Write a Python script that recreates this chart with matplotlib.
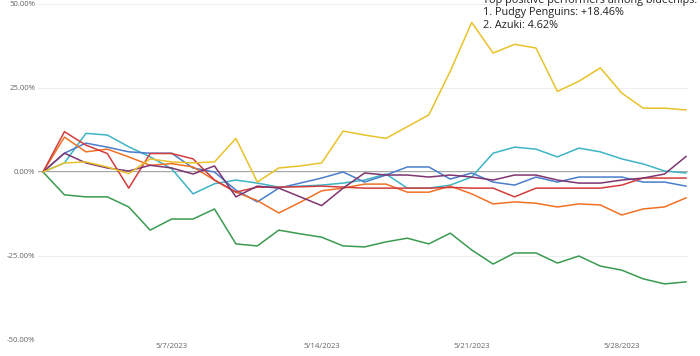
import matplotlib
matplotlib.use("Agg")
import matplotlib.pyplot as plt
import numpy as np
import pandas as pd

# daily % change vs 5/1/2023
dates = pd.date_range("2023-05-01", "2023-05-31", freq="D")

pudgy = [0, 2.7, 3, 1.5, -0.5, 3.9, 3, 2.7, 3, 10, -3, 1.2, 1.8, 2.7, 12.2, 11,
         10, 13.5, 17, 30, 44.5, 35.4, 38, 36.9, 24, 27, 31, 23.5, 19, 19, 18.46]
azuki = [0, 5.6, 2.7, 1.2, 0.3, 2, 1.2, -0.6, 1.8, -7.4, -4.2, -4.8, -7.4, -10, -4.8, -0.3,
         -0.9, -0.9, -1.5, -0.9, -1.5, -2.4, -0.9, -0.9, -2.4, -3.3, -3.3, -2.4, -1.8, -0.6, 4.62]
teal = [0, 2.7, 11.5, 11, 7.5, 4.5, 1, -6.5, -3.5, -2.4, -3.3, -4.5, -4.2, -3.9, -3.3, -2.4,
        -0.6, -4.8, -4.8, -3.9, -1.5, 5.6, 7.4, 6.8, 4.5, 7.1, 6, 3.9, 2.4, 0.3, -0.3]
blue = [0, 5.6, 8.6, 7.4, 6, 5.6, 5.6, 1.2, 0, -5.4, -8.9, -4.8, -3.3, -1.8, 0, -3,
        -0.9, 1.5, 1.5, -2.1, -0.3, -3, -3.9, -1.5, -3, -1.5, -1.5, -1.5, -3, -3, -4.2]
red = [0, 12, 8, 5.5, -4.8, 5.5, 5.5, 3.9, -2.4, -6, -4.5, -4.5, -4.4, -4.2, -4.5, -4.8,
       -4.8, -4.8, -4.8, -4.6, -4.8, -4.8, -7.4, -4.8, -4.8, -4.8, -4.8, -3.9, -1.8, -1.8, -1.8]
orange = [0, 10.4, 6, 6.8, 4.5, 2, 2.5, 1.5, -2.4, -6, -8.5, -12.2, -9, -5.6, -4.8, -3.6,
          -3.6, -6, -6, -4.2, -6.5, -9.5, -8.9, -9.3, -10.4, -9.5, -9.8, -12.8, -11, -10.4, -7.7]
green = [0, -6.8, -7.4, -7.4, -10.4, -17.3, -14, -14, -11, -21.4, -22, -17.3, -18.4, -19.4, -22, -22.3,
         -20.8, -19.7, -21.4, -18.2, -23.2, -27.4, -24.1, -24.1, -27.1, -25, -28, -29.2, -31.8, -33.3, -32.7]

series = [
    (teal, "#3db4c4"),
    (blue, "#4a7dcc"),
    (orange, "#f07124"),
    (green, "#3a9a50"),
    (red, "#d43c3c"),
    (azuki, "#7e3570"),
    (pudgy, "#e8c22a"),
]

yticks = [-50, -25, 0, 25, 50]
xticks = pd.to_datetime(["2023-05-07", "2023-05-14", "2023-05-21", "2023-05-28"])

fig = plt.figure(figsize=(7.0, 3.56), dpi=100)
ax = fig.add_axes([38 / 700, 16 / 356, 650 / 700, 336 / 356])

ax.axhline(0, color="#9a9a9a", lw=1.3, zorder=1)
for vals, col in series:
    ax.plot(dates, vals, color=col, lw=1.1, zorder=2)

ax.set_ylim(-50, 50)
ax.set_xlim(dates[0] - pd.Timedelta(hours=5.6), dates[-1] + pd.Timedelta(hours=2.2))
ax.set_yticks(yticks)
ax.set_yticklabels([f"{v:.2f}%" for v in yticks])
ax.set_xticks(xticks)
ax.set_xticklabels([f"{d.month}/{d.day}/{d.year}" for d in xticks])
ax.grid(axis="y", color="#eeeeee", lw=0.8, zorder=0)
for s in ax.spines.values():
    s.set_visible(False)
ax.tick_params(length=0, labelsize=5.6, labelcolor="#666666", pad=2)
ax.tick_params(axis="y", pad=2)
for lab in ax.get_xticklabels() + ax.get_yticklabels():
    lab.set_family("Open Sans")

fig.text(483 / 700, 1 - 13 / 356,
         "Top positive performers among bluechips:\n1. Pudgy Penguins: +18.46%\n2. Azuki: 4.62%",
         fontsize=7.8, color="#222222", va="center", ha="left", linespacing=1.2,
         family="Open Sans")

fig.savefig("out.png", dpi=100)
